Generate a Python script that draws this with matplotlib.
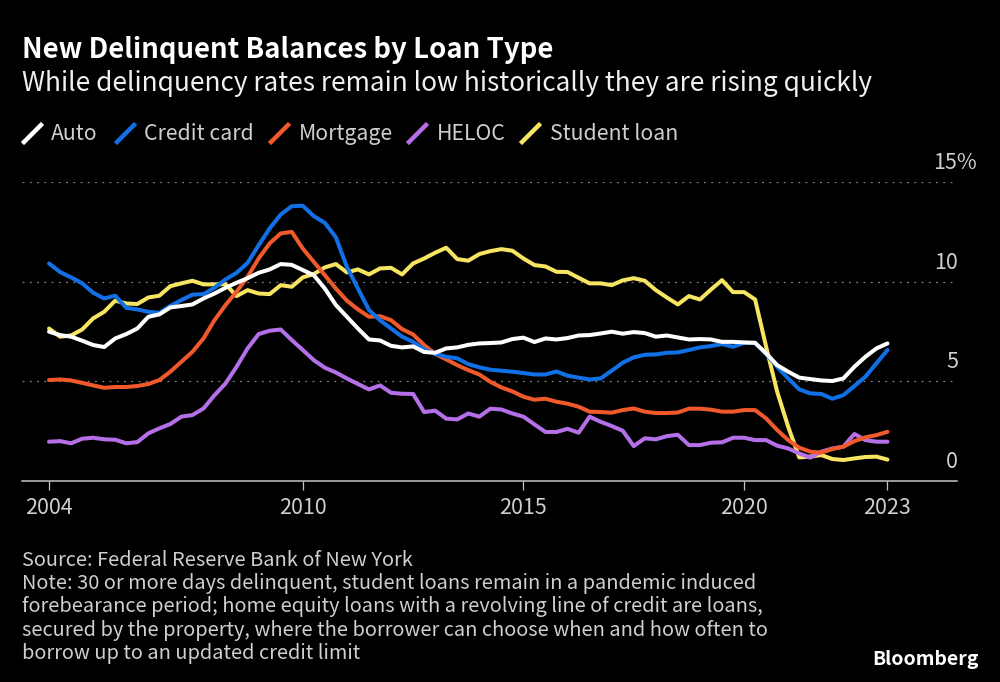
import numpy as np
import matplotlib
matplotlib.use("Agg")
import matplotlib.pyplot as plt
from matplotlib.lines import Line2D

plt.rcParams['font.family'] = ['Noto Sans CJK JP', 'DejaVu Sans']

# quarterly values, 2004 Q1 to 2023 Q1
auto = [7.49, 7.32, 7.24, 7.04, 6.82, 6.72, 7.15, 7.37, 7.65, 8.24, 8.36, 8.71, 8.78, 8.86, 9.16, 9.41,
        9.70, 9.95, 10.18, 10.45, 10.62, 10.89, 10.85, 10.59, 10.33, 9.66, 8.83, 8.24, 7.65, 7.10, 7.05, 6.78,
        6.70, 6.75, 6.47, 6.43, 6.65, 6.70, 6.83, 6.90, 6.92, 6.95, 7.12, 7.19, 6.97, 7.15, 7.10, 7.17,
        7.30, 7.32, 7.40, 7.49, 7.39, 7.47, 7.42, 7.24, 7.30, 7.20, 7.10, 7.12, 7.10, 6.98, 6.98, 6.95,
        6.93, 6.40, 5.81, 5.48, 5.18, 5.11, 5.04, 5.01, 5.14, 5.73, 6.23, 6.65, 6.90]
credit_card = [10.92, 10.49, 10.22, 9.92, 9.45, 9.16, 9.30, 8.69, 8.61, 8.49, 8.44, 8.79, 9.08, 9.35, 9.38, 9.70,
               10.12, 10.45, 10.95, 11.84, 12.68, 13.38, 13.80, 13.82, 13.30, 12.96, 12.23, 10.75, 9.66, 8.58, 8.07, 7.65,
               7.24, 6.98, 6.60, 6.37, 6.23, 6.15, 5.86, 5.70, 5.58, 5.53, 5.48, 5.41, 5.34, 5.34, 5.49, 5.28,
               5.18, 5.09, 5.14, 5.53, 5.93, 6.20, 6.33, 6.35, 6.43, 6.45, 6.57, 6.70, 6.77, 6.87, 6.73, 6.93,
               6.93, 6.37, 5.73, 5.14, 4.59, 4.39, 4.36, 4.12, 4.30, 4.76, 5.23, 5.90, 6.57]
mortgage = [5.06, 5.09, 5.04, 4.92, 4.79, 4.67, 4.71, 4.71, 4.76, 4.86, 5.06, 5.48, 5.98, 6.48, 7.15, 8.07,
            8.83, 9.50, 10.25, 11.17, 11.93, 12.43, 12.51, 11.67, 11.00, 10.33, 9.66, 9.05, 8.61, 8.24, 8.27, 8.07,
            7.62, 7.35, 6.82, 6.37, 6.10, 5.81, 5.56, 5.34, 4.97, 4.69, 4.49, 4.22, 4.07, 4.12, 3.97, 3.87,
            3.72, 3.47, 3.45, 3.42, 3.55, 3.63, 3.47, 3.40, 3.40, 3.43, 3.62, 3.62, 3.57, 3.47, 3.47, 3.55,
            3.55, 3.13, 2.55, 2.04, 1.66, 1.46, 1.41, 1.59, 1.71, 1.99, 2.18, 2.29, 2.46]
heloc = [1.96, 1.99, 1.88, 2.11, 2.16, 2.08, 2.06, 1.88, 1.94, 2.38, 2.63, 2.85, 3.22, 3.30, 3.63, 4.30,
         4.89, 5.73, 6.65, 7.37, 7.54, 7.60, 7.07, 6.57, 6.06, 5.68, 5.44, 5.14, 4.86, 4.59, 4.79, 4.42,
         4.37, 4.36, 3.45, 3.52, 3.12, 3.08, 3.38, 3.22, 3.62, 3.58, 3.38, 3.22, 2.83, 2.45, 2.45, 2.61,
         2.41, 3.22, 2.96, 2.75, 2.51, 1.74, 2.13, 2.08, 2.24, 2.31, 1.79, 1.79, 1.91, 1.93, 2.16, 2.16,
         2.04, 2.04, 1.76, 1.62, 1.37, 1.16, 1.46, 1.62, 1.71, 2.35, 2.04, 1.96, 1.96]
student_loan = [7.65, 7.24, 7.30, 7.60, 8.16, 8.49, 9.05, 8.91, 8.88, 9.21, 9.30, 9.78, 9.92, 10.05, 9.87, 9.87,
                9.88, 9.28, 9.58, 9.41, 9.38, 9.83, 9.75, 10.22, 10.39, 10.72, 10.89, 10.47, 10.62, 10.37, 10.67, 10.70,
                10.37, 10.92, 11.17, 11.46, 11.71, 11.14, 11.06, 11.39, 11.54, 11.64, 11.56, 11.17, 10.84, 10.77, 10.50, 10.49,
                10.20, 9.92, 9.92, 9.83, 10.07, 10.18, 10.05, 9.58, 9.21, 8.86, 9.28, 9.11, 9.61, 10.08, 9.48, 9.48,
                9.11, 6.73, 4.47, 2.71, 1.17, 1.21, 1.29, 1.09, 1.04, 1.12, 1.19, 1.21, 1.06]

series_names = ['Auto', 'Credit card', 'Mortgage', 'HELOC', 'Student loan']
series_colors = ['#ffffff', '#1170e6', '#f0592b', '#b56fe8', '#f6e462']
series_values = [auto, credit_card, mortgage, heloc, student_loan]

# year labels sit on the quarter index, the spacing in the source is uneven
year_positions = [0, 23, 43, 63, 76]
year_labels = ['2004', '2010', '2015', '2020', '2023']
y_ticks = [0, 5, 10, 15]
y_labels = ['0', '5', '10', '15%']

title = 'New Delinquent Balances by Loan Type'
subtitle = 'While delinquency rates remain low historically they are rising quickly'
source_lines = ['Source: Federal Reserve Bank of New York',
                'Note: 30 or more days delinquent, student loans remain in a pandemic induced',
                'forebearance period; home equity loans with a revolving line of credit are loans,',
                'secured by the property, where the borrower can choose when and how often to',
                'borrow up to an updated credit limit']

W, H = 1000, 682
BG = '#000000'
GREY = '#cfcfcf'


def fx(px):
    return px / W


def fy(px):
    return 1 - px / H


fig = plt.figure(figsize=(W / 100, H / 100), dpi=100, facecolor=BG)
ax = fig.add_axes([fx(22), fy(480.7), (957 - 22) / W, (480.7 - 182.3) / H], facecolor=BG)

x = np.arange(len(auto))
# reversed so auto ends up on top
for name, color, values in reversed(list(zip(series_names, series_colors, series_values))):
    ax.plot(x, values, color=color, lw=2.9, label=name, solid_joinstyle='round', solid_capstyle='round', clip_on=False)

ax.set_xlim(-2.45, 82.3)
ax.set_ylim(0, 15)

for s in ['top', 'left', 'right']:
    ax.spines[s].set_visible(False)
ax.spines['bottom'].set_color('#c4c4c4')
ax.spines['bottom'].set_linewidth(1.1)

ax.set_xticks(year_positions)
ax.set_xticklabels(year_labels, fontsize=15.5, color=GREY)
ax.tick_params(axis='x', length=6.5, width=0.9, color='#c4c4c4', pad=5.5)

ax.set_yticks(y_ticks)
ax.set_yticklabels([])
ax.tick_params(axis='y', length=0)
ax.grid(axis='y', color='#7d7d7d', lw=0.9, linestyle=(0, (1.6, 4.2)))
ax.set_axisbelow(True)

# y labels float above the gridlines, the % hangs past the right edge
for val, lab in zip(y_ticks, y_labels):
    right = 20 if lab.endswith('%') else 1
    ax.annotate(lab, xy=(1, val), xycoords=('axes fraction', 'data'), xytext=(right, 13),
                textcoords='offset pixels', ha='right', va='baseline', fontsize=15.5, color=GREY,
                annotation_clip=False)

fig.text(fx(22), fy(58), title, fontsize=19.85, fontweight='bold', color='#ffffff', va='baseline')
fig.text(fx(22), fy(91), subtitle, fontsize=18.9, color='#f0f0f0', va='baseline')

# legend, written out by hand to get the slanted keys
key_x = [24, 117, 271, 409, 522]
label_x = [51, 144, 299, 437, 550]
for name, color, kx, lx in zip(series_names, series_colors, key_x, label_x):
    fig.add_artist(Line2D([fx(kx), fx(kx + 17)], [fy(142), fy(125)], color=color, lw=3.2,
                          transform=fig.transFigure))
    fig.text(fx(lx), fy(140), name, fontsize=15.3, color=GREY, va='baseline')

for i, line in enumerate(source_lines):
    fig.text(fx(22), fy(566 + i * 23.2), line, fontsize=14.4, color=GREY, va='baseline')

fig.text(fx(979), fy(665), 'Bloomberg', fontsize=14, fontweight='bold', color='#ffffff', ha='right', va='baseline')

fig.savefig('out.png', dpi=100, facecolor=BG)
